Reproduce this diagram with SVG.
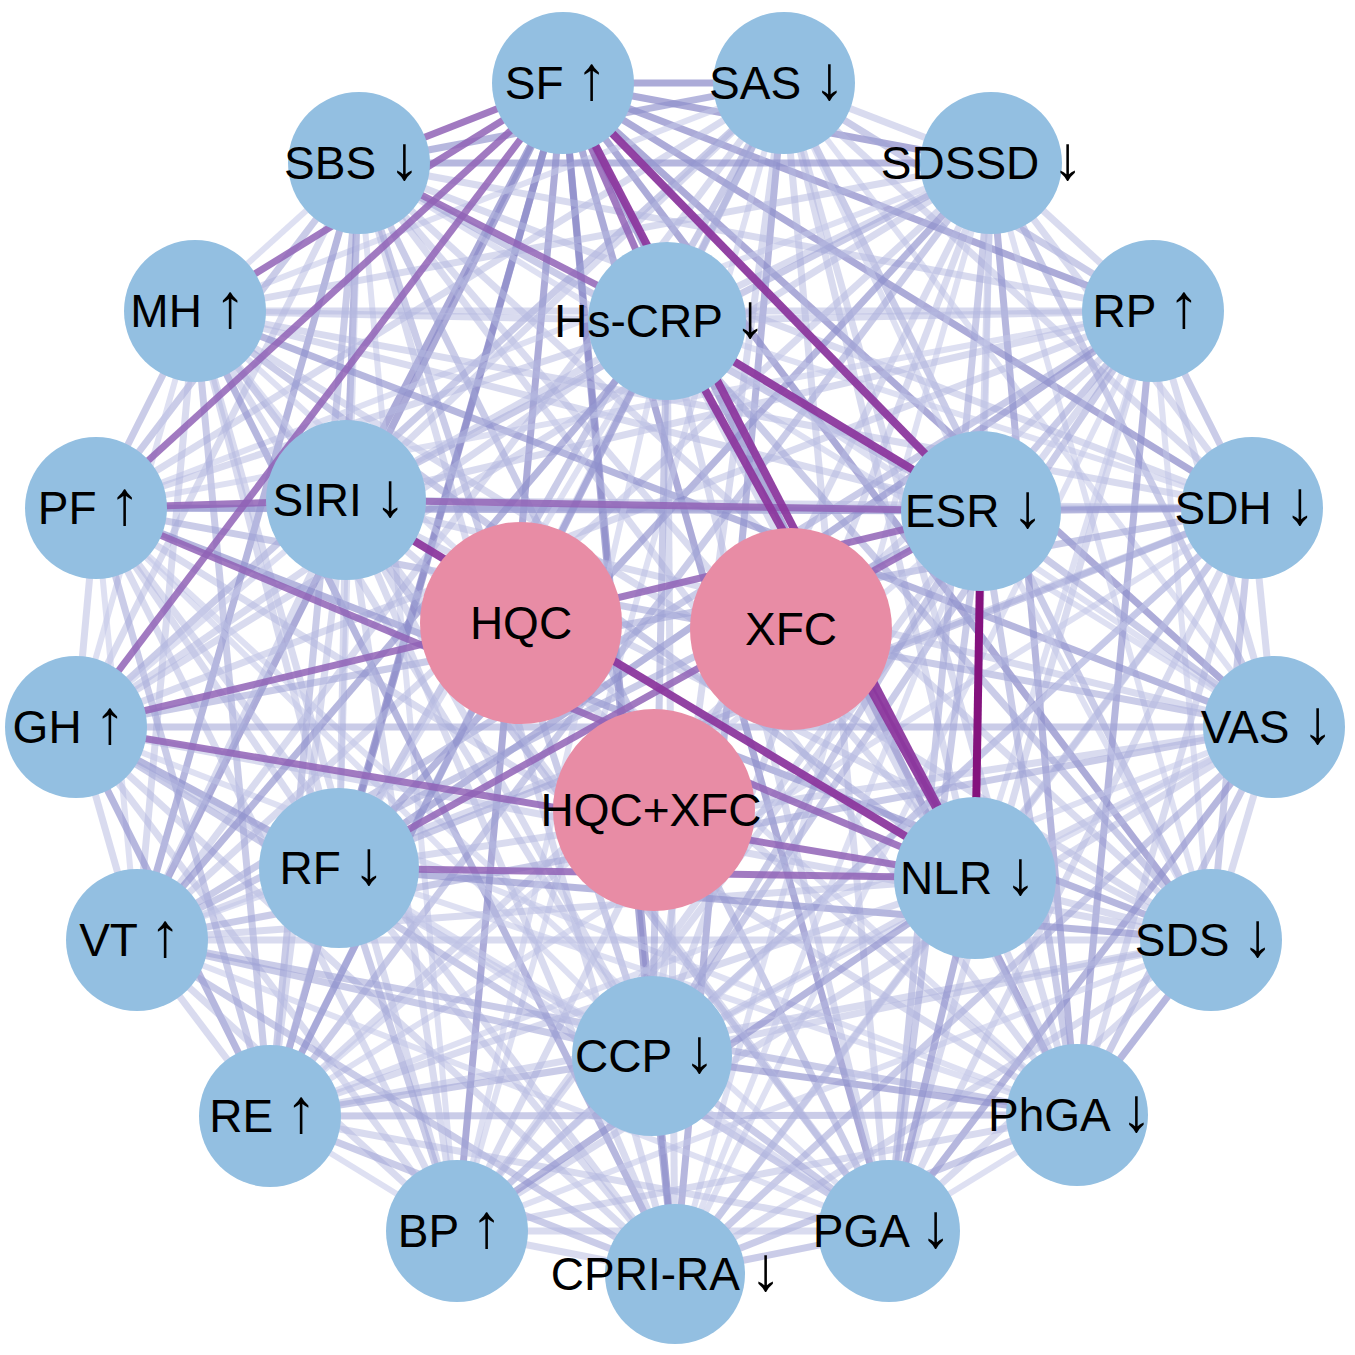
<svg xmlns="http://www.w3.org/2000/svg" width="1355" height="1355" viewBox="0 0 1355 1355">
<style>
#edges line{stroke:#b4b8e0;stroke-opacity:.5;stroke-width:7;stroke-linecap:butt}
#edges line:nth-child(3n+1){stroke:#9ea3d6;stroke-opacity:.55}
#edges line:nth-child(7n+2){stroke:#8f91cc;stroke-opacity:.65}
#edges line:nth-child(5n+3){stroke:#c3c6e8;stroke-opacity:.55;stroke-width:6}
#edges line.m{stroke:#8c8ac9;stroke-opacity:.72;stroke-width:7}
#edges line.p{stroke:#9163b6;stroke-opacity:.85;stroke-width:7}
#edges line.k{stroke:#8c389e;stroke-opacity:.95;stroke-width:8}
#edges line.d{stroke:#84127d;stroke-opacity:1;stroke-width:8}
.b{fill:#93bfe1}
.r{fill:#e88ca5}
text{font-family:"Liberation Sans",Arial,sans-serif;font-size:46px;fill:#000;text-anchor:middle}
.a{font-size:62px}
</style>
<rect width="1355" height="1355" fill="#fff"/>
<g id="edges">
<line class="m" x1="563" y1="83" x2="784" y2="83"/>
<line class="m" x1="563" y1="83" x2="991" y2="163"/>
<line class="m" x1="563" y1="83" x2="1153" y2="311"/>
<line class="m" x1="563" y1="83" x2="1252" y2="508"/>
<line class="m" x1="563" y1="83" x2="1274" y2="727"/>
<line class="m" x1="563" y1="83" x2="137" y2="940"/>
<line class="m" x1="563" y1="83" x2="1211" y2="940"/>
<line class="m" x1="563" y1="83" x2="270" y2="1116"/>
<line class="m" x1="563" y1="83" x2="1077" y2="1115"/>
<line class="m" x1="563" y1="83" x2="457" y2="1231"/>
<line class="m" x1="563" y1="83" x2="889" y2="1231"/>
<line class="m" x1="563" y1="83" x2="675" y2="1274"/>
<line class="m" x1="563" y1="83" x2="346" y2="500"/>
<line class="m" x1="563" y1="83" x2="339" y2="868"/>
<line class="m" x1="563" y1="83" x2="652" y2="1056"/>
<line x1="784" y1="83" x2="359" y2="163"/>
<line x1="784" y1="83" x2="991" y2="163"/>
<line x1="784" y1="83" x2="195" y2="311"/>
<line x1="784" y1="83" x2="1153" y2="311"/>
<line x1="784" y1="83" x2="96" y2="508"/>
<line x1="784" y1="83" x2="1252" y2="508"/>
<line x1="784" y1="83" x2="76" y2="727"/>
<line x1="784" y1="83" x2="1274" y2="727"/>
<line x1="784" y1="83" x2="137" y2="940"/>
<line x1="784" y1="83" x2="1211" y2="940"/>
<line x1="784" y1="83" x2="270" y2="1116"/>
<line x1="784" y1="83" x2="1077" y2="1115"/>
<line x1="784" y1="83" x2="457" y2="1231"/>
<line x1="784" y1="83" x2="889" y2="1231"/>
<line x1="784" y1="83" x2="675" y2="1274"/>
<line x1="784" y1="83" x2="667" y2="321"/>
<line x1="784" y1="83" x2="346" y2="500"/>
<line x1="784" y1="83" x2="981" y2="511"/>
<line x1="784" y1="83" x2="339" y2="868"/>
<line x1="784" y1="83" x2="975" y2="878"/>
<line x1="784" y1="83" x2="652" y2="1056"/>
<line x1="359" y1="163" x2="991" y2="163"/>
<line x1="359" y1="163" x2="195" y2="311"/>
<line x1="359" y1="163" x2="1153" y2="311"/>
<line x1="359" y1="163" x2="96" y2="508"/>
<line x1="359" y1="163" x2="1252" y2="508"/>
<line x1="359" y1="163" x2="76" y2="727"/>
<line x1="359" y1="163" x2="1274" y2="727"/>
<line x1="359" y1="163" x2="137" y2="940"/>
<line x1="359" y1="163" x2="1211" y2="940"/>
<line x1="359" y1="163" x2="270" y2="1116"/>
<line x1="359" y1="163" x2="1077" y2="1115"/>
<line x1="359" y1="163" x2="457" y2="1231"/>
<line x1="359" y1="163" x2="889" y2="1231"/>
<line x1="359" y1="163" x2="675" y2="1274"/>
<line x1="359" y1="163" x2="346" y2="500"/>
<line x1="359" y1="163" x2="981" y2="511"/>
<line x1="359" y1="163" x2="339" y2="868"/>
<line x1="359" y1="163" x2="975" y2="878"/>
<line x1="359" y1="163" x2="652" y2="1056"/>
<line x1="991" y1="163" x2="195" y2="311"/>
<line x1="991" y1="163" x2="1153" y2="311"/>
<line x1="991" y1="163" x2="96" y2="508"/>
<line x1="991" y1="163" x2="1252" y2="508"/>
<line x1="991" y1="163" x2="76" y2="727"/>
<line x1="991" y1="163" x2="1274" y2="727"/>
<line x1="991" y1="163" x2="137" y2="940"/>
<line x1="991" y1="163" x2="1211" y2="940"/>
<line x1="991" y1="163" x2="270" y2="1116"/>
<line x1="991" y1="163" x2="1077" y2="1115"/>
<line x1="991" y1="163" x2="457" y2="1231"/>
<line x1="991" y1="163" x2="889" y2="1231"/>
<line x1="991" y1="163" x2="675" y2="1274"/>
<line x1="991" y1="163" x2="667" y2="321"/>
<line x1="991" y1="163" x2="346" y2="500"/>
<line x1="991" y1="163" x2="981" y2="511"/>
<line x1="991" y1="163" x2="339" y2="868"/>
<line x1="991" y1="163" x2="975" y2="878"/>
<line x1="991" y1="163" x2="652" y2="1056"/>
<line x1="195" y1="311" x2="1153" y2="311"/>
<line x1="195" y1="311" x2="96" y2="508"/>
<line x1="195" y1="311" x2="1252" y2="508"/>
<line x1="195" y1="311" x2="76" y2="727"/>
<line x1="195" y1="311" x2="1274" y2="727"/>
<line x1="195" y1="311" x2="137" y2="940"/>
<line x1="195" y1="311" x2="1211" y2="940"/>
<line x1="195" y1="311" x2="270" y2="1116"/>
<line x1="195" y1="311" x2="1077" y2="1115"/>
<line x1="195" y1="311" x2="457" y2="1231"/>
<line x1="195" y1="311" x2="889" y2="1231"/>
<line x1="195" y1="311" x2="675" y2="1274"/>
<line x1="195" y1="311" x2="667" y2="321"/>
<line x1="195" y1="311" x2="346" y2="500"/>
<line x1="195" y1="311" x2="981" y2="511"/>
<line x1="195" y1="311" x2="339" y2="868"/>
<line x1="195" y1="311" x2="975" y2="878"/>
<line x1="195" y1="311" x2="652" y2="1056"/>
<line x1="1153" y1="311" x2="96" y2="508"/>
<line x1="1153" y1="311" x2="1252" y2="508"/>
<line x1="1153" y1="311" x2="76" y2="727"/>
<line x1="1153" y1="311" x2="1274" y2="727"/>
<line x1="1153" y1="311" x2="137" y2="940"/>
<line x1="1153" y1="311" x2="1211" y2="940"/>
<line x1="1153" y1="311" x2="270" y2="1116"/>
<line x1="1153" y1="311" x2="1077" y2="1115"/>
<line x1="1153" y1="311" x2="457" y2="1231"/>
<line x1="1153" y1="311" x2="889" y2="1231"/>
<line x1="1153" y1="311" x2="675" y2="1274"/>
<line x1="1153" y1="311" x2="667" y2="321"/>
<line x1="1153" y1="311" x2="346" y2="500"/>
<line x1="1153" y1="311" x2="981" y2="511"/>
<line x1="1153" y1="311" x2="339" y2="868"/>
<line x1="1153" y1="311" x2="975" y2="878"/>
<line x1="1153" y1="311" x2="652" y2="1056"/>
<line x1="96" y1="508" x2="1252" y2="508"/>
<line x1="96" y1="508" x2="76" y2="727"/>
<line x1="96" y1="508" x2="1274" y2="727"/>
<line x1="96" y1="508" x2="137" y2="940"/>
<line x1="96" y1="508" x2="1211" y2="940"/>
<line x1="96" y1="508" x2="270" y2="1116"/>
<line x1="96" y1="508" x2="1077" y2="1115"/>
<line x1="96" y1="508" x2="457" y2="1231"/>
<line x1="96" y1="508" x2="889" y2="1231"/>
<line x1="96" y1="508" x2="675" y2="1274"/>
<line x1="96" y1="508" x2="667" y2="321"/>
<line x1="96" y1="508" x2="981" y2="511"/>
<line x1="96" y1="508" x2="339" y2="868"/>
<line x1="96" y1="508" x2="652" y2="1056"/>
<line x1="1252" y1="508" x2="76" y2="727"/>
<line x1="1252" y1="508" x2="1274" y2="727"/>
<line x1="1252" y1="508" x2="137" y2="940"/>
<line x1="1252" y1="508" x2="1211" y2="940"/>
<line x1="1252" y1="508" x2="270" y2="1116"/>
<line x1="1252" y1="508" x2="1077" y2="1115"/>
<line x1="1252" y1="508" x2="457" y2="1231"/>
<line x1="1252" y1="508" x2="889" y2="1231"/>
<line x1="1252" y1="508" x2="675" y2="1274"/>
<line x1="1252" y1="508" x2="667" y2="321"/>
<line x1="1252" y1="508" x2="346" y2="500"/>
<line x1="1252" y1="508" x2="981" y2="511"/>
<line x1="1252" y1="508" x2="339" y2="868"/>
<line x1="1252" y1="508" x2="975" y2="878"/>
<line x1="1252" y1="508" x2="652" y2="1056"/>
<line x1="76" y1="727" x2="1274" y2="727"/>
<line x1="76" y1="727" x2="137" y2="940"/>
<line x1="76" y1="727" x2="1211" y2="940"/>
<line x1="76" y1="727" x2="270" y2="1116"/>
<line x1="76" y1="727" x2="1077" y2="1115"/>
<line x1="76" y1="727" x2="457" y2="1231"/>
<line x1="76" y1="727" x2="889" y2="1231"/>
<line x1="76" y1="727" x2="675" y2="1274"/>
<line x1="76" y1="727" x2="667" y2="321"/>
<line x1="76" y1="727" x2="346" y2="500"/>
<line x1="76" y1="727" x2="339" y2="868"/>
<line x1="76" y1="727" x2="652" y2="1056"/>
<line x1="1274" y1="727" x2="137" y2="940"/>
<line x1="1274" y1="727" x2="1211" y2="940"/>
<line x1="1274" y1="727" x2="270" y2="1116"/>
<line x1="1274" y1="727" x2="1077" y2="1115"/>
<line x1="1274" y1="727" x2="457" y2="1231"/>
<line x1="1274" y1="727" x2="889" y2="1231"/>
<line x1="1274" y1="727" x2="675" y2="1274"/>
<line x1="1274" y1="727" x2="667" y2="321"/>
<line x1="1274" y1="727" x2="346" y2="500"/>
<line x1="1274" y1="727" x2="981" y2="511"/>
<line x1="1274" y1="727" x2="339" y2="868"/>
<line x1="1274" y1="727" x2="975" y2="878"/>
<line x1="1274" y1="727" x2="652" y2="1056"/>
<line x1="137" y1="940" x2="1211" y2="940"/>
<line x1="137" y1="940" x2="270" y2="1116"/>
<line x1="137" y1="940" x2="1077" y2="1115"/>
<line x1="137" y1="940" x2="457" y2="1231"/>
<line x1="137" y1="940" x2="889" y2="1231"/>
<line x1="137" y1="940" x2="675" y2="1274"/>
<line x1="137" y1="940" x2="667" y2="321"/>
<line x1="137" y1="940" x2="346" y2="500"/>
<line x1="137" y1="940" x2="981" y2="511"/>
<line x1="137" y1="940" x2="339" y2="868"/>
<line x1="137" y1="940" x2="975" y2="878"/>
<line x1="137" y1="940" x2="652" y2="1056"/>
<line x1="1211" y1="940" x2="270" y2="1116"/>
<line x1="1211" y1="940" x2="1077" y2="1115"/>
<line x1="1211" y1="940" x2="457" y2="1231"/>
<line x1="1211" y1="940" x2="889" y2="1231"/>
<line x1="1211" y1="940" x2="675" y2="1274"/>
<line x1="1211" y1="940" x2="667" y2="321"/>
<line x1="1211" y1="940" x2="346" y2="500"/>
<line x1="1211" y1="940" x2="981" y2="511"/>
<line x1="1211" y1="940" x2="339" y2="868"/>
<line x1="1211" y1="940" x2="975" y2="878"/>
<line x1="1211" y1="940" x2="652" y2="1056"/>
<line x1="270" y1="1116" x2="1077" y2="1115"/>
<line x1="270" y1="1116" x2="457" y2="1231"/>
<line x1="270" y1="1116" x2="889" y2="1231"/>
<line x1="270" y1="1116" x2="675" y2="1274"/>
<line x1="270" y1="1116" x2="667" y2="321"/>
<line x1="270" y1="1116" x2="346" y2="500"/>
<line x1="270" y1="1116" x2="981" y2="511"/>
<line x1="270" y1="1116" x2="339" y2="868"/>
<line x1="270" y1="1116" x2="975" y2="878"/>
<line x1="270" y1="1116" x2="652" y2="1056"/>
<line x1="1077" y1="1115" x2="457" y2="1231"/>
<line x1="1077" y1="1115" x2="889" y2="1231"/>
<line x1="1077" y1="1115" x2="675" y2="1274"/>
<line x1="1077" y1="1115" x2="667" y2="321"/>
<line x1="1077" y1="1115" x2="346" y2="500"/>
<line x1="1077" y1="1115" x2="981" y2="511"/>
<line x1="1077" y1="1115" x2="339" y2="868"/>
<line x1="1077" y1="1115" x2="975" y2="878"/>
<line x1="1077" y1="1115" x2="652" y2="1056"/>
<line x1="457" y1="1231" x2="889" y2="1231"/>
<line x1="457" y1="1231" x2="675" y2="1274"/>
<line x1="457" y1="1231" x2="667" y2="321"/>
<line x1="457" y1="1231" x2="346" y2="500"/>
<line x1="457" y1="1231" x2="981" y2="511"/>
<line x1="457" y1="1231" x2="339" y2="868"/>
<line x1="457" y1="1231" x2="975" y2="878"/>
<line x1="457" y1="1231" x2="652" y2="1056"/>
<line x1="889" y1="1231" x2="675" y2="1274"/>
<line x1="889" y1="1231" x2="667" y2="321"/>
<line x1="889" y1="1231" x2="346" y2="500"/>
<line x1="889" y1="1231" x2="981" y2="511"/>
<line x1="889" y1="1231" x2="339" y2="868"/>
<line x1="889" y1="1231" x2="975" y2="878"/>
<line x1="889" y1="1231" x2="652" y2="1056"/>
<line x1="675" y1="1274" x2="667" y2="321"/>
<line x1="675" y1="1274" x2="346" y2="500"/>
<line x1="675" y1="1274" x2="981" y2="511"/>
<line x1="675" y1="1274" x2="339" y2="868"/>
<line x1="675" y1="1274" x2="975" y2="878"/>
<line x1="675" y1="1274" x2="652" y2="1056"/>
<line x1="667" y1="321" x2="346" y2="500"/>
<line x1="667" y1="321" x2="339" y2="868"/>
<line x1="667" y1="321" x2="652" y2="1056"/>
<line x1="346" y1="500" x2="339" y2="868"/>
<line x1="346" y1="500" x2="652" y2="1056"/>
<line x1="981" y1="511" x2="652" y2="1056"/>
<line x1="339" y1="868" x2="652" y2="1056"/>
<line x1="975" y1="878" x2="652" y2="1056"/>
<line class="p" x1="563" y1="83" x2="359" y2="163"/>
<line class="p" x1="563" y1="83" x2="195" y2="311"/>
<line class="p" x1="563" y1="83" x2="96" y2="508"/>
<line class="p" x1="563" y1="83" x2="76" y2="727"/>
<line class="p" x1="563" y1="83" x2="667" y2="321"/>
<line class="p" x1="346" y1="500" x2="981" y2="511"/>
<line class="p" x1="96" y1="508" x2="346" y2="500"/>
<line class="p" x1="96" y1="508" x2="975" y2="878"/>
<line class="p" x1="76" y1="727" x2="975" y2="878"/>
<line class="p" x1="76" y1="727" x2="981" y2="511"/>
<line class="p" x1="339" y1="868" x2="981" y2="511"/>
<line class="p" x1="339" y1="868" x2="975" y2="878"/>
<line class="p" x1="359" y1="163" x2="667" y2="321"/>
<line class="k" x1="563" y1="83" x2="981" y2="511"/>
<line class="k" x1="563" y1="83" x2="975" y2="878"/>
<line class="k" x1="667" y1="321" x2="975" y2="878"/>
<line class="k" x1="667" y1="321" x2="981" y2="511"/>
<line class="k" x1="346" y1="500" x2="975" y2="878"/>
<line class="d" x1="981" y1="511" x2="975" y2="878"/>
</g>
<g id="node-SF"><circle class="b" cx="563" cy="83" r="71"/><text x="556" y="99">SF <tspan class="a">↑</tspan></text></g>
<g id="node-SAS"><circle class="b" cx="784" cy="83" r="71"/><text x="777" y="99">SAS <tspan class="a">↓</tspan></text></g>
<g id="node-SBS"><circle class="b" cx="359" cy="163" r="71"/><text x="352" y="179">SBS <tspan class="a">↓</tspan></text></g>
<g id="node-SDSSD"><circle class="b" cx="991" cy="163" r="71"/><text x="982" y="179">SDSSD <tspan class="a">↓</tspan></text></g>
<g id="node-MH"><circle class="b" cx="195" cy="311" r="71"/><text x="188" y="327">MH <tspan class="a">↑</tspan></text></g>
<g id="node-RP"><circle class="b" cx="1153" cy="311" r="71"/><text x="1146" y="327">RP <tspan class="a">↑</tspan></text></g>
<g id="node-PF"><circle class="b" cx="96" cy="508" r="71"/><text x="89" y="524">PF <tspan class="a">↑</tspan></text></g>
<g id="node-SDH"><circle class="b" cx="1252" cy="508" r="71"/><text x="1245" y="524">SDH <tspan class="a">↓</tspan></text></g>
<g id="node-GH"><circle class="b" cx="76" cy="727" r="71"/><text x="69" y="743">GH <tspan class="a">↑</tspan></text></g>
<g id="node-VAS"><circle class="b" cx="1274" cy="727" r="71"/><text x="1267" y="743">VAS <tspan class="a">↓</tspan></text></g>
<g id="node-VT"><circle class="b" cx="137" cy="940" r="71"/><text x="130" y="956">VT <tspan class="a">↑</tspan></text></g>
<g id="node-SDS"><circle class="b" cx="1211" cy="940" r="71"/><text x="1204" y="956">SDS <tspan class="a">↓</tspan></text></g>
<g id="node-RE"><circle class="b" cx="270" cy="1116" r="71"/><text x="263" y="1132">RE <tspan class="a">↑</tspan></text></g>
<g id="node-PhGA"><circle class="b" cx="1077" cy="1115" r="71"/><text x="1070" y="1131">PhGA <tspan class="a">↓</tspan></text></g>
<g id="node-BP"><circle class="b" cx="457" cy="1231" r="71"/><text x="450" y="1247">BP <tspan class="a">↑</tspan></text></g>
<g id="node-PGA"><circle class="b" cx="889" cy="1231" r="71"/><text x="882" y="1247">PGA <tspan class="a">↓</tspan></text></g>
<g id="node-CPRI-RA"><circle class="b" cx="675" cy="1274" r="70"/><text x="666" y="1290">CPRI-RA <tspan class="a">↓</tspan></text></g>
<g id="node-Hs-CRP"><circle class="b" cx="667" cy="321" r="79"/><text x="660" y="337">Hs-CRP <tspan class="a">↓</tspan></text></g>
<g id="node-SIRI"><circle class="b" cx="346" cy="500" r="80"/><text x="339" y="516">SIRI <tspan class="a">↓</tspan></text></g>
<g id="node-ESR"><circle class="b" cx="981" cy="511" r="80"/><text x="974" y="527">ESR <tspan class="a">↓</tspan></text></g>
<g id="node-RF"><circle class="b" cx="339" cy="868" r="80"/><text x="332" y="884">RF <tspan class="a">↓</tspan></text></g>
<g id="node-NLR"><circle class="b" cx="975" cy="878" r="81"/><text x="968" y="894">NLR <tspan class="a">↓</tspan></text></g>
<g id="node-CCP"><circle class="b" cx="652" cy="1056" r="80"/><text x="645" y="1072">CCP <tspan class="a">↓</tspan></text></g>
<g id="node-HQC"><circle class="r" cx="521" cy="623" r="101"/><text x="521" y="639">HQC</text></g>
<g id="node-XFC"><circle class="r" cx="791" cy="629" r="101"/><text x="791" y="645">XFC</text></g>
<g id="node-HQC-XFC"><circle class="r" cx="654" cy="810" r="101"/><text x="651" y="826">HQC+XFC</text></g>
</svg>
